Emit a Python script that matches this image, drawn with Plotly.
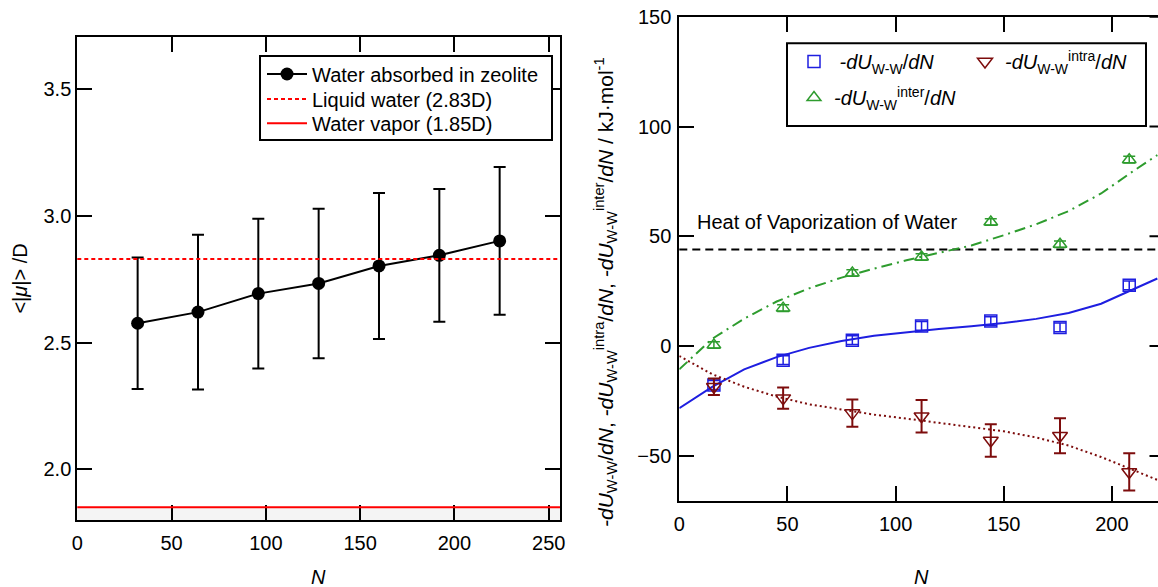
import plotly.graph_objects as go

# ---------------- data: left panel ----------------
N_left = [32, 64, 96, 128, 160, 192, 224]
mu_mean = [2.576, 2.620, 2.693, 2.733, 2.802, 2.844, 2.901]
mu_err = [0.259, 0.305, 0.295, 0.295, 0.288, 0.262, 0.291]
mu_liquid = 2.83
mu_vapor = 1.85
left_x_ticks = [0, 50, 100, 150, 200, 250]
left_y_ticks = [2.0, 2.5, 3.0, 3.5]

# ---------------- data: right panel ----------------
N_right = [16, 48, 80, 112, 144, 176, 208]
dU_total = [-17.7, -6.4, 2.7, 9.2, 11.4, 8.5, 27.7]
dU_total_err = [2.0, 2.0, 2.0, 2.0, 2.0, 2.0, 2.0]
dU_inter = [0.5, 17.3, 33.3, 40.6, 56.5, 46.4, 84.9]
dU_inter_err = [1.5, 1.5, 1.5, 1.5, 1.5, 1.5, 1.5]
dU_intra = [-18.5, -23.7, -30.5, -31.9, -43.0, -40.8, -57.3]
dU_intra_err = [3.8, 4.8, 6.2, 7.4, 7.4, 8.0, 8.5]

fit_N = [0, 15, 30, 45, 60, 75, 90, 105, 120, 135, 150, 165, 180, 195, 210, 221]
fit_total = [-28.3, -18.7, -10.6, -5.0, -0.8, 2.3, 4.7, 6.4, 7.8, 9.1, 10.5, 12.4, 15.1, 19.3, 25.8, 30.8]
fit_inter = [-10.6, 3.2, 12.5, 20.3, 26.3, 31.2, 35.3, 39.1, 42.5, 45.8, 50.5, 55.5, 61.5, 69.5, 79.8, 87.0]
fit_intra = [-4.5, -12.7, -18.5, -23.0, -26.5, -29.0, -31.2, -33.0, -34.9, -36.7, -38.8, -41.6, -45.3, -50.5, -56.5, -60.9]
heat_vap = 44
right_x_ticks = [0, 50, 100, 150, 200]
right_y_ticks = [-50, 0, 50, 100, 150]

FONT = "Liberation Sans, Arial, sans-serif"
BLUE = "#1e1ee0"
MAROON = "#7d0c0c"
GREEN = "#2e9c2e"
W, H = 1158, 587

fig = go.Figure()

# ---- left panel ----
fig.add_trace(go.Scatter(
    x=N_left, y=mu_mean, mode="lines+markers", name="Water absorbed in zeolite",
    line=dict(color="black", width=2),
    marker=dict(color="black", size=13, symbol="circle"),
    error_y=dict(type="data", array=mu_err, color="black", thickness=2, width=6),
    xaxis="x", yaxis="y", legend="legend",
))

# ---- right panel ----
fig.add_trace(go.Scatter(
    x=fit_N, y=fit_total, mode="lines", showlegend=False,
    line=dict(color=BLUE, width=2), xaxis="x2", yaxis="y2"))
fig.add_trace(go.Scatter(
    x=fit_N, y=fit_inter, mode="lines", showlegend=False,
    line=dict(color=GREEN, width=2, dash="11px,5px,2px,5px"), xaxis="x2", yaxis="y2"))
fig.add_trace(go.Scatter(
    x=fit_N, y=fit_intra, mode="lines", showlegend=False,
    line=dict(color=MAROON, width=2, dash="2px,3px"), xaxis="x2", yaxis="y2"))

fig.add_trace(go.Scatter(
    x=N_right, y=dU_total, mode="markers",
    name="\u00a0<i>-dU</i><sub>W-W</sub>/<i>dN</i>",
    marker=dict(symbol="square-open", size=12, color=BLUE, line=dict(width=1.5, color=BLUE)),
    error_y=dict(type="data", array=dU_total_err, color=BLUE, thickness=1.5, width=6),
    xaxis="x2", yaxis="y2", legend="legend2"))
fig.add_trace(go.Scatter(
    x=N_right, y=dU_intra, mode="markers",
    name="<i>-dU</i><sub>W-W</sub><sup>intra</sup>/<i>dN</i>",
    marker=dict(symbol="triangle-down-open", size=13, color=MAROON, line=dict(width=1.5, color=MAROON)),
    error_y=dict(type="data", array=dU_intra_err, color=MAROON, thickness=2, width=6),
    xaxis="x2", yaxis="y2", legend="legend2"))
fig.add_trace(go.Scatter(
    x=N_right, y=dU_inter, mode="markers",
    name="<i>-dU</i><sub>W-W</sub><sup>inter</sup>/<i>dN</i>",
    marker=dict(symbol="triangle-up-open", size=12, color=GREEN, line=dict(width=1.5, color=GREEN)),
    error_y=dict(type="data", array=dU_inter_err, color=GREEN, thickness=1.5, width=6),
    xaxis="x2", yaxis="y2", legend="legend3"))

shapes = [
    dict(type="rect", xref="x domain", yref="y", x0=0, x1=1, y0=1.8, y1=mu_vapor,
         fillcolor="#f4f4f4", line=dict(width=0), layer="below"),
    dict(type="line", xref="x domain", yref="y", x0=0, x1=1, y0=mu_liquid, y1=mu_liquid,
         line=dict(color="red", width=2, dash="4px,3px"),
         showlegend=True, name="Liquid water (2.83D)", legend="legend4"),
    dict(type="line", xref="x domain", yref="y", x0=0, x1=1, y0=mu_vapor, y1=mu_vapor,
         line=dict(color="red", width=2),
         showlegend=True, name="Water vapor (1.85D)", legend="legend5"),
    dict(type="line", xref="x2 domain", yref="y2", x0=0, x1=1, y0=heat_vap, y1=heat_vap,
         line=dict(color="black", width=2, dash="8px,5px"), layer="below"),
    # legend frames
    dict(type="rect", xref="paper", yref="paper",
         x0=260 / W, x1=552 / W, y0=1 - 140 / H, y1=1 - 56 / H,
         fillcolor="white", line=dict(color="black", width=2), layer="above"),
    dict(type="rect", xref="paper", yref="paper",
         x0=787 / W, x1=1146 / W, y0=1 - 126 / H, y1=1 - 43.3 / H,
         fillcolor="white", line=dict(color="black", width=2), layer="above"),
]
# right-side mirror ticks of the right panel (its right axis line falls past the image edge)
for v in right_y_ticks:
    shapes.append(dict(type="line", xref="paper", yref="y2", x0=1 - 8.5 / W, x1=1, y0=v, y1=v,
                       line=dict(color="black", width=2)))

axis_common = dict(showline=True, linewidth=2, linecolor="black", ticks="inside",
                   ticklen=15, tickwidth=2, tickcolor="black", showgrid=False, zeroline=False,
                   tickfont=dict(family=FONT, size=20, color="black"))

legend_font = dict(family=FONT, size=20, color="black")
left_leg = dict(x=262 / W, xanchor="left", yanchor="middle", bgcolor="rgba(0,0,0,0)",
                borderwidth=0, itemwidth=40, font=legend_font)

fig.update_layout(
    width=W, height=H,
    margin=dict(l=0, r=0, t=0, b=0, autoexpand=False),
    paper_bgcolor="white", plot_bgcolor="white",
    font=dict(family=FONT, size=20, color="black"),
    xaxis=dict(domain=[77.3 / W, 560 / W], range=[0, 256], anchor="y", mirror="ticks",
               tickvals=left_x_ticks, ticklabelstandoff=4, **axis_common),
    yaxis=dict(domain=[1 - 520 / H, 1 - 37.3 / H], range=[1.8, 3.704], anchor="x", mirror="ticks",
               tickvals=left_y_ticks, tickformat=".1f", ticklabelstandoff=0, **axis_common),
    xaxis2=dict(domain=[679.3 / W, 1.0], range=[0, 221.3], anchor="y2", mirror="ticks",
                tickvals=right_x_ticks, ticklabelstandoff=4, **axis_common),
    yaxis2=dict(domain=[1 - 500.5 / H, 1 - 16.7 / H], range=[-70.3, 150], anchor="x2", mirror=False,
                tickvals=right_y_ticks, ticklabelstandoff=2, **axis_common),
    shapes=shapes,
    legend=dict(y=1 - 74 / H, **left_leg),
    legend4=dict(y=1 - 99 / H, **left_leg),
    legend5=dict(y=1 - 123.3 / H, **left_leg),
    legend2=dict(x=794 / W, y=1 - 42 / H, xanchor="left", yanchor="top", orientation="h",
                 entrywidth=126, entrywidthmode="pixels", bgcolor="rgba(0,0,0,0)", borderwidth=0,
                 font=legend_font),
    legend3=dict(x=794 / W, y=1 - 78 / H, xanchor="left", yanchor="top",
                 bgcolor="rgba(0,0,0,0)", borderwidth=0, font=legend_font),
    annotations=[
        dict(text="&lt;|<i>μ</i>|&gt; /D", xref="paper", yref="paper", x=20 / W, y=1 - 278.6 / H,
             textangle=-90, showarrow=False, xanchor="center", yanchor="middle",
             font=dict(family=FONT, size=20)),
        dict(text="<i>-dU</i><sub>W-W</sub>/<i>dN</i>, <i>-dU</i><sub>W-W</sub><sup>intra</sup>/<i>dN</i>, "
                  "<i>-dU</i><sub>W-W</sub><sup>inter</sup>/<i>dN</i> / kJ·mol<sup>-1</sup>",
             xref="paper", yref="paper", x=606 / W, y=1 - 292 / H,
             textangle=-90, showarrow=False, xanchor="center", yanchor="middle",
             font=dict(family=FONT, size=21)),
        dict(text="<i>N</i>", xref="paper", yref="paper", x=318.6 / W, y=1 - 577 / H,
             showarrow=False, xanchor="center", yanchor="middle", font=dict(family=FONT, size=20)),
        dict(text="<i>N</i>", xref="paper", yref="paper", x=921 / W, y=1 - 577 / H,
             showarrow=False, xanchor="center", yanchor="middle", font=dict(family=FONT, size=20)),
        dict(text="Heat of Vaporization of Water", xref="x2", yref="y2", x=7.4, y=56.5,
             showarrow=False, xanchor="left", yanchor="middle", font=dict(family=FONT, size=20)),
    ],
)

fig.write_html("out.html", config={"displayModeBar": False},
               post_script="document.body.style.margin='0px';")
